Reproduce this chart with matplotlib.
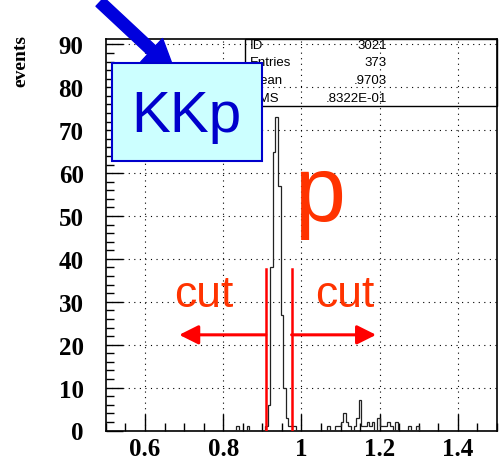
import numpy as np
import matplotlib
matplotlib.use("Agg")
import matplotlib.pyplot as plt
from matplotlib.patches import Rectangle
from matplotlib.ticker import MultipleLocator, FixedLocator

# histogram binning (150 bins over 0.5 - 1.5)
x_lo, x_hi, n_bins = 0.5, 1.5, 150

# non-empty bins: index -> entries
peak_bins = [61, 62, 63, 64, 65, 66, 67, 68, 69, 70, 71, 72]
peak_counts = [1, 6, 38, 65, 73, 57, 27, 10, 3, 1, 1, 1]
low_bins = [50, 54]
low_counts = [1, 1]
high_bins = [85, 88, 89, 90, 91, 92, 93, 95, 96, 97, 98, 99, 100, 101, 102,
             104, 105, 106, 107, 108, 109, 111, 116, 119]
high_counts = [1, 1, 1, 2, 4, 2, 1, 1, 3, 7, 1, 1, 2, 1, 2,
               3, 1, 1, 1, 2, 1, 2, 1, 1]

# stats box
stat_names = ["ID", "Entries", "Mean", "RMS"]
stat_values = ["3021", "373", ".9703", ".8322E-01"]

# selection window
cut_lo, cut_hi = 0.909, 0.975
cut_height = 37.6
arrow_y = 22.3
arrow_left_end, arrow_right_end = 0.6875, 1.191

x_ticks = [0.6, 0.8, 1.0, 1.2, 1.4]
x_ticklabels = ["0.6", "0.8", "1", "1.2", "1.4"]
y_ticks = list(range(0, 100, 10))

edges = np.linspace(x_lo, x_hi, n_bins + 1)
counts = np.zeros(n_bins)
for idx, c in zip(peak_bins + low_bins + high_bins,
                  peak_counts + low_counts + high_counts):
    counts[idx] = c

W, H = 501, 464
fig = plt.figure(figsize=(W / 100, H / 100), dpi=100)
ax = fig.add_axes([105.9 / W, 1 - 431.5 / H, (496.9 - 105.9) / W, (431.5 - 40) / H])

ax.stairs(counts, edges, color="#222222", lw=0.9, zorder=3)

ax.set_xlim(x_lo, x_hi)
ax.set_ylim(0, (431.5 - 40) / 4.29)

ax.xaxis.set_major_locator(FixedLocator(x_ticks))
ax.set_xticklabels(x_ticklabels)
ax.xaxis.set_minor_locator(MultipleLocator(0.05))
ax.yaxis.set_major_locator(FixedLocator(y_ticks))
ax.yaxis.set_minor_locator(MultipleLocator(2))

ax.tick_params(which="both", direction="in", top=False, right=False, width=1.0, color="black")
ax.tick_params(which="major", length=12)
ax.tick_params(which="minor", length=6)
ax.tick_params(axis="x", which="major", pad=5)
ax.tick_params(axis="y", which="major", pad=16)
for lab in ax.get_xticklabels() + ax.get_yticklabels():
    lab.set_fontfamily("Liberation Serif")
    lab.set_fontweight("bold")
    lab.set_fontsize(18)

ax.grid(True, which="major", color="black", lw=0.8, linestyle=(0, (1, 4)))
ax.set_axisbelow(True)
for sp in ax.spines.values():
    sp.set_linewidth(1.2)

fig.text(20.5 / W, 1 - 61 / H, "events", rotation=90, ha="center", va="center",
         family="Liberation Serif", weight="bold", fontsize=14)

# cut lines and arrows
red = "#ff0000"
ax.plot([cut_lo, cut_lo], [0, cut_height], color=red, lw=1.8, zorder=4)
ax.plot([cut_hi, cut_hi], [0, cut_height], color=red, lw=1.8, zorder=4)
arrow_kw = dict(arrowstyle="-|>,head_length=0.4,head_width=0.2", color=red, lw=2.2,
                mutation_scale=29, shrinkA=0, shrinkB=0)
ax.annotate("", xy=(arrow_left_end, arrow_y), xytext=(cut_lo, arrow_y), arrowprops=arrow_kw)
ax.annotate("", xy=(arrow_right_end, arrow_y), xytext=(cut_hi, arrow_y), arrowprops=arrow_kw)

orange = "#ff3300"
fig.text(204 / W, 1 - 306.7 / H, "cut", color=orange, fontsize=32, family="Liberation Sans",
         ha="center", va="baseline")
fig.text(345 / W, 1 - 306.7 / H, "cut", color=orange, fontsize=32, family="Liberation Sans",
         ha="center", va="baseline")
fig.text(294 / W, 1 - 221 / H, "p", color=orange, fontsize=66, family="Liberation Sans",
         ha="left", va="baseline")

# stats box
fig.add_artist(Rectangle((245 / W, 1 - 107 / H), (496.9 - 245) / W, (107 - 40) / H,
                         transform=fig.transFigure, fill=False, ec="black", lw=1.0))
row_y = [46, 63, 81, 99]
for name, val, yy in zip(stat_names, stat_values, row_y):
    fig.text(250 / W, 1 - yy / H, name, fontsize=9.5, family="Liberation Sans", va="center")
    fig.text(387 / W, 1 - yy / H, val, fontsize=9.5, family="Liberation Sans", va="center", ha="right")

# KKp label box
fig.add_artist(Rectangle((111.7 / W, 1 - 161.7 / H), (261.7 - 111.7) / W, (161.7 - 64) / H,
                         transform=fig.transFigure, fc="#ccffff", ec="#0000cc", lw=1.5, zorder=5))
fig.text(186 / W, 1 - 117 / H, "KKp", color="#0000cc", fontsize=42, family="Liberation Sans",
         ha="center", va="center", zorder=6)

ax.annotate("", xy=(175, H - 73), xycoords="figure pixels", xytext=(100, H - 3),
            textcoords="figure pixels",
            arrowprops=dict(arrowstyle="simple,head_length=1.15,head_width=1.15,tail_width=0.42",
                            color="#0000dd", mutation_scale=20, shrinkA=0, shrinkB=0),
            zorder=7, annotation_clip=False)

fig.savefig("out.png", dpi=100)
